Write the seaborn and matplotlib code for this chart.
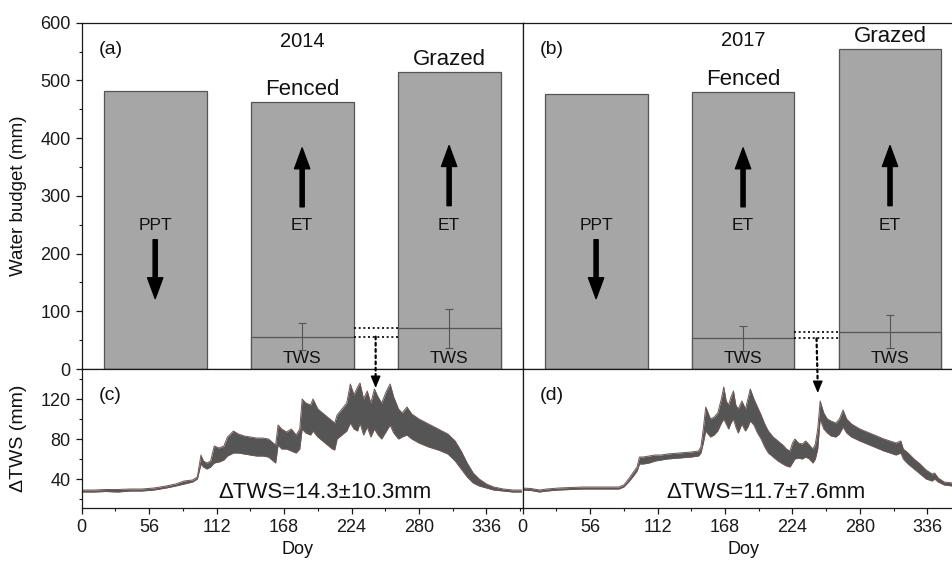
import numpy as np
import pandas as pd
import matplotlib
matplotlib.use("Agg")
import matplotlib.pyplot as plt
import seaborn as sns
from matplotlib.patches import ConnectionPatch
from matplotlib.ticker import MultipleLocator

# ---------------- data ----------------
categories = ["PPT", "Fenced", "Grazed"]
budget_2014 = [481, 463, 514]
budget_2017 = [476, 480, 555]
tws_2014 = [56.0, 70.5]
tws_2014_err = [23.0, 34.0]
tws_2017 = [53.0, 64.7]
tws_2017_err = [21.0, 28.5]
dtws_2014_label = "ΔTWS=14.3±10.3mm"
dtws_2017_label = "ΔTWS=11.7±7.6mm"

doy_2014 = [0, 10, 20, 30, 40, 50, 60, 70, 78, 85, 92, 96, 99, 101, 104, 107, 110, 114, 118,
            121, 126, 130, 135, 140, 145, 150, 155, 159, 161, 163, 166, 170, 174, 178, 181,
            183, 186, 190, 192, 196, 200, 204, 208, 210, 212, 216, 220, 223, 226, 229, 231,
            234, 237, 240, 243, 246, 249, 253, 256, 259, 263, 266, 270, 274, 280, 288, 296,
            304, 310, 315, 320, 325, 330, 336, 342, 350, 358, 365]
low_2014 = [27, 27, 27.5, 27, 28, 28, 29, 31, 33, 35, 37, 40, 55, 52, 50, 52, 56, 57, 59,
            63, 66, 66, 65, 64, 63, 63, 62, 58, 56, 74, 70, 70, 68, 66, 70,
            90, 86, 84, 88, 82, 78, 74, 70, 69, 80, 84, 88, 96, 90, 88, 96,
            84, 92, 82, 90, 84, 80, 88, 94, 86, 80, 82, 84, 80, 76, 72, 69,
            65, 58, 50, 42, 36, 33, 31, 29, 28, 27, 27]
up_2014 = [29, 29, 29.5, 29.5, 30, 30, 31, 33, 35, 38, 39, 42, 64, 58, 56, 58, 73, 71, 73,
           82, 88, 85, 83, 82, 81, 81, 80, 76, 74, 94, 90, 87, 90, 84, 90,
           120, 116, 114, 120, 110, 106, 102, 98, 96, 104, 110, 116, 135, 124, 132, 136,
           120, 128, 116, 130, 122, 116, 128, 135, 122, 110, 106, 112, 105, 100, 95, 90,
           85, 78, 68, 56, 46, 40, 35, 32, 30, 29, 29]

doy_2017 = [0, 7, 14, 20, 30, 40, 50, 60, 70, 80, 84, 88, 92, 95, 97, 100, 105, 110, 115,
            120, 130, 140, 146, 148, 150, 152, 154, 156, 159, 162, 165, 167, 169, 171, 173,
            175, 177, 179, 182, 185, 187, 189, 192, 195, 198, 201, 204, 208, 212, 216, 219,
            222, 224, 226, 229, 232, 235, 238, 241, 243, 245, 247, 250, 253, 256, 260, 263,
            266, 269, 273, 280, 290, 300, 310, 314, 316, 320, 325, 330, 335, 340, 342, 345,
            350, 357, 365]
low_2017 = [29, 28.5, 27, 28, 29, 29.5, 30, 30, 30, 30, 32, 37, 43, 48, 55, 55, 56, 58, 59,
            60, 61, 62, 63, 66, 76, 88, 85, 82, 84, 88, 96, 100, 95, 90, 96,
            100, 92, 86, 95, 88, 92, 98, 94, 86, 80, 72, 66, 62, 58, 55, 53,
            52, 56, 60, 61, 60, 62, 60, 56, 60, 70, 100, 90, 86, 83, 82, 85,
            92, 86, 82, 78, 73, 68, 64, 66, 60, 55, 50, 45, 40, 38, 40, 37,
            34, 33, 33]
up_2017 = [31, 30.5, 29, 30, 31, 31.5, 32, 32, 32, 32, 34, 40, 47, 52, 62, 62, 63, 64, 64,
           65, 66, 67, 68, 72, 90, 112, 106, 100, 102, 106, 120, 132, 118, 114, 122,
           128, 114, 110, 118, 110, 120, 130, 120, 112, 104, 95, 88, 82, 78, 74, 70,
           68, 76, 80, 76, 75, 78, 74, 70, 75, 90, 118, 106, 100, 98, 96, 100,
           109, 100, 95, 90, 85, 80, 76, 78, 70, 66, 60, 55, 49, 45, 46, 41,
           37, 36, 35]

# ---------------- style ----------------
sns.set_theme(style="ticks")
plt.rcParams["font.family"] = ["Liberation Sans", "DejaVu Sans"]
plt.rcParams["axes.linewidth"] = 0.9
plt.rcParams["axes.edgecolor"] = "#1a1a1a"
plt.rcParams["xtick.color"] = "#1a1a1a"
plt.rcParams["ytick.color"] = "#1a1a1a"
plt.rcParams["text.color"] = "#111111"
plt.rcParams["axes.labelcolor"] = "#111111"

BAR = "#a6a6a6"
EDGE = "#555555"
BAND = "#555555"
TICK_FS = 13

fig = plt.figure(figsize=(9.53, 5.62), dpi=100)
W, H = 953.0, 562.0
def pos(x0, y0, x1, y1):
    return [x0 / W, 1 - y1 / H, (x1 - x0) / W, (y1 - y0) / H]

ax_a = fig.add_axes(pos(81.7, 22.7, 522.6, 369))
ax_b = fig.add_axes(pos(522.6, 22.7, 963.5, 369))
ax_c = fig.add_axes(pos(81.7, 369, 522.6, 507.5))
ax_d = fig.add_axes(pos(522.6, 369, 963.5, 507.5))


def budget_panel(ax, vals, tws, tws_err, year, letter, year_y, show_y):
    df = pd.DataFrame({"cat": categories, "val": vals})
    sns.barplot(data=df, x="cat", y="val", ax=ax, color=BAR, saturation=1,
                width=0.7, edgecolor=EDGE, linewidth=0.9)
    dft = pd.DataFrame({"cat": categories, "val": [np.nan] + list(tws)})
    sns.barplot(data=dft, x="cat", y="val", ax=ax, color=BAR, saturation=1,
                width=0.7, edgecolor=EDGE, linewidth=0.9)
    ax.errorbar([1, 2], tws, yerr=tws_err, fmt="none", ecolor="#555555",
                elinewidth=0.8, capsize=3, capthick=0.8)
    ax.set_xlim(-0.5, 2.5)
    ax.set_ylim(0, 600)
    ax.set_xticks([])
    ax.set_xlabel("")
    ax.set_ylabel("")
    ax.yaxis.set_major_locator(MultipleLocator(100))
    ax.yaxis.set_minor_locator(MultipleLocator(50))
    ax.tick_params(axis="y", which="major", direction="out", length=4.5, width=0.9, labelsize=TICK_FS)
    ax.tick_params(axis="y", which="minor", direction="out", length=2.5, width=0.8)
    if not show_y:
        ax.tick_params(axis="y", which="both", left=False, labelleft=False)
    for s in ax.spines.values():
        s.set_visible(True)
    ax.text(-0.3, 554, letter, fontsize=14, ha="center", va="center")
    ax.text(1.0, year_y, year, fontsize=14.5, ha="center", va="center")
    ax.text(1.0, vals[1] + 12, "Fenced", fontsize=16, ha="center", va="baseline")
    ax.text(2.0, vals[2] + 12, "Grazed", fontsize=16, ha="center", va="baseline")
    ax.text(0, 249, "PPT", fontsize=12.5, ha="center", va="center")
    ax.text(1, 249, "ET", fontsize=12.5, ha="center", va="center")
    ax.text(2, 249, "ET", fontsize=12.5, ha="center", va="center")
    ax.text(1, 18, "TWS", fontsize=12.5, ha="center", va="center")
    ax.text(2, 18, "TWS", fontsize=12.5, ha="center", va="center")
    arrow = dict(width=3, headwidth=11, headlength=15, facecolor="black", edgecolor="black")
    ax.annotate("", xy=(0, 122), xytext=(0, 224), arrowprops=arrow)
    ax.annotate("", xy=(1, 383), xytext=(1, 281), arrowprops=arrow)
    ax.annotate("", xy=(2, 387), xytext=(2, 283), arrowprops=arrow)
    ax.hlines(tws, 1.35, 1.65, colors="black", linestyles=(0, (1.2, 1.6)), lw=1.2)


def tws_panel(ax, doy, low, up, text, letter, show_y):
    d = pd.DataFrame({"doy": doy, "low": low, "up": up})
    ax.fill_between(d["doy"], d["low"], d["up"], color=BAND, lw=0)
    sns.lineplot(data=d, x="doy", y="low", ax=ax, color="#6e5555", lw=0.7)
    sns.lineplot(data=d, x="doy", y="up", ax=ax, color="#6e5555", lw=0.7)
    ax.set_xlim(0, 366)
    ax.set_ylim(11.5, 150)
    ax.xaxis.set_major_locator(MultipleLocator(56))
    ax.xaxis.set_minor_locator(MultipleLocator(28))
    ax.yaxis.set_major_locator(MultipleLocator(40))
    ax.yaxis.set_minor_locator(MultipleLocator(20))
    ax.tick_params(axis="both", which="major", direction="out", length=4.5, width=0.9, labelsize=TICK_FS)
    ax.tick_params(axis="both", which="minor", direction="out", length=2.5, width=0.8)
    if not show_y:
        ax.tick_params(axis="y", which="both", left=False, labelleft=False)
    ax.set_ylabel("")
    ax.set_xlabel("Doy", fontsize=13)
    for s in ax.spines.values():
        s.set_visible(True)
    ax.text(24, 124, letter, fontsize=14, ha="center", va="center")
    ax.text(202, 27, text, fontsize=16, ha="center", va="center")


budget_panel(ax_a, budget_2014, tws_2014, tws_2014_err, "2014", "(a)", 568, True)
budget_panel(ax_b, budget_2017, tws_2017, tws_2017_err, "2017", "(b)", 570, False)
tws_panel(ax_c, doy_2014, low_2014, up_2014, dtws_2014_label, "(c)", True)
tws_panel(ax_d, doy_2017, low_2017, up_2017, dtws_2017_label, "(d)", False)
ax_c.xaxis.set_label_coords(0.49, -0.245)
ax_d.xaxis.set_label_coords(0.5, -0.245)

ax_a.set_ylabel("Water budget (mm)", fontsize=13.5)
ax_a.yaxis.set_label_coords(-0.125, 0.5)
ax_c.set_ylabel("ΔTWS (mm)", fontsize=14)
ax_c.yaxis.set_label_coords(-0.125, 0.5)

# dotted connectors with arrowheads
for ax_top, ax_bot, tws, x_doy, tip in [(ax_a, ax_c, tws_2014, 244, 131),
                                         (ax_b, ax_d, tws_2017, 245, 126)]:
    con = ConnectionPatch(xyA=(1.5, tws[0]), coordsA=ax_top.transData,
                          xyB=(x_doy, tip + 8), coordsB=ax_bot.transData,
                          color="black", lw=1.6, linestyle=(0, (1.2, 1.6)))
    fig.add_artist(con)
    ax_bot.annotate("", xy=(x_doy, tip), xytext=(x_doy, tip + 9),
                    arrowprops=dict(arrowstyle="-|>,head_width=0.25,head_length=0.6",
                                    color="black", lw=1.0, shrinkA=0, shrinkB=0),
                    annotation_clip=False)

fig.savefig("out.png", dpi=100)
